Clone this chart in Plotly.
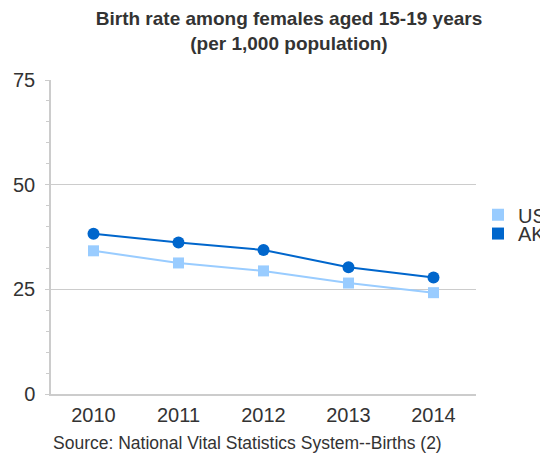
import plotly.graph_objects as go

years = ["2010", "2011", "2012", "2013", "2014"]
us_rate = [34.2, 31.3, 29.4, 26.5, 24.2]
ak_rate = [38.3, 36.2, 34.4, 30.3, 27.8]
y_ticks = [0, 25, 50, 75]

US_COLOR = "#99ccff"
AK_COLOR = "#0066cc"
FONT = "Liberation Sans, Arial, sans-serif"
TXT = "#333333"

# the page body adds an 8px offset; layout numbers below compensate for it
PL, PT, PR, PB = 43, 72, 468, 386   # plot area in figure pixels
W, H = 548, 454

fig = go.Figure()
fig.add_trace(go.Scatter(x=years, y=us_rate, mode="lines+markers", name="US",
                         line=dict(color=US_COLOR, width=2),
                         marker=dict(symbol="square", size=11, color=US_COLOR),
                         showlegend=False))
fig.add_trace(go.Scatter(x=years, y=ak_rate, mode="lines+markers", name="AK",
                         line=dict(color=AK_COLOR, width=2),
                         marker=dict(symbol="circle", size=12, color=AK_COLOR),
                         showlegend=False))
# legend swatches (square markers only), one legend per entry for tight spacing
fig.add_trace(go.Scatter(x=[None], y=[None], mode="markers", name="US",
                         marker=dict(symbol="square", size=12, color=US_COLOR),
                         legend="legend"))
fig.add_trace(go.Scatter(x=[None], y=[None], mode="markers", name="AK",
                         marker=dict(symbol="square", size=12, color=AK_COLOR),
                         legend="legend2"))

leg_common = dict(xanchor="left", yanchor="middle", x=1.0047,
                  font=dict(family=FONT, size=20, color=TXT),
                  bgcolor="rgba(0,0,0,0)", borderwidth=0)

fig.update_layout(
    width=W, height=H,
    margin=dict(l=PL, r=W - PR, t=PT, b=H - PB, autoexpand=False),
    paper_bgcolor="white", plot_bgcolor="white",
    font=dict(family=FONT, size=20, color=TXT),
    title=dict(text="<b>Birth rate among females aged 15-19 years<br>(per 1,000 population)</b>",
               x=281 / W, xanchor="center", y=1 - 17 / H, yanchor="top",
               font=dict(family=FONT, size=19, color=TXT)),
    legend=dict(y=0.571, **leg_common),
    legend2=dict(y=0.511, **leg_common),
    xaxis=dict(type="category", range=[-0.5, 4.5], showgrid=False,
               showline=True, linecolor="#cccccc", linewidth=1.5,
               ticks="", ticklabelstandoff=2,
               tickfont=dict(size=20, color=TXT), automargin=False),
    yaxis=dict(range=[0, 75], tickvals=y_ticks, showgrid=True, gridcolor="#cccccc",
               gridwidth=1, showline=True, linecolor="#cccccc", linewidth=1.5,
               zeroline=False, ticks="outside", ticklen=4, tickcolor="#cccccc",
               ticklabelstandoff=6, automargin=False,
               tickfont=dict(size=20, color=TXT),
               minor=dict(dtick=5, ticks="outside", ticklen=3, tickcolor="#cccccc",
                          showgrid=False)),
    annotations=[dict(text="Source: National Vital Statistics System--Births (2)",
                      x=254 / W, xref="paper", xanchor="center",
                      y=(PB - 435) / (PB - PT), yref="paper", yanchor="middle",
                      showarrow=False,
                      font=dict(family=FONT, size=17.5, color=TXT))],
)

fig.write_html("out.html")
